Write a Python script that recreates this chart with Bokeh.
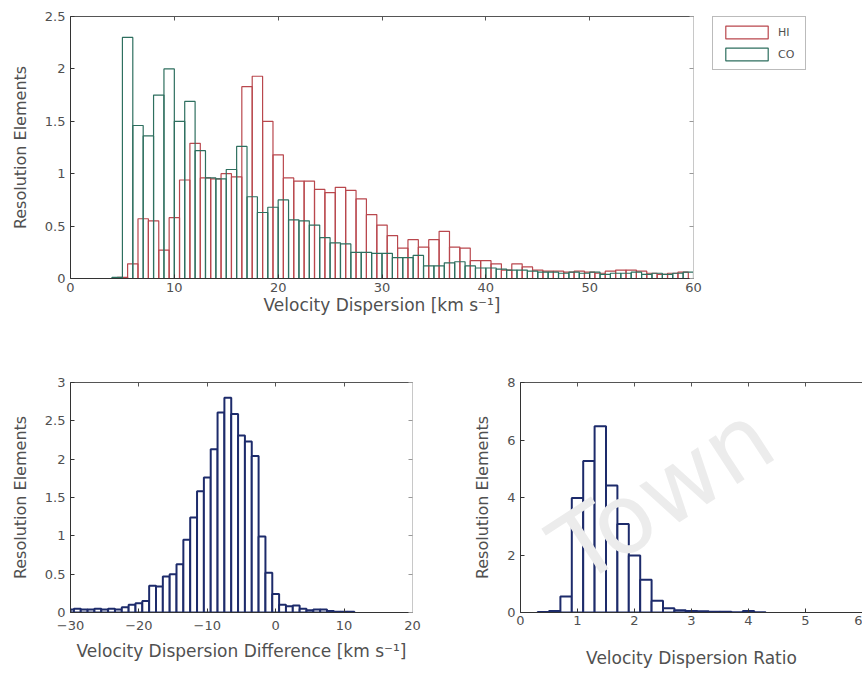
from bokeh.plotting import figure
from bokeh.models import Legend, LegendItem, LinearAxis, FixedTicker, Label
from bokeh.layouts import column, row
from bokeh.embed import file_html
from bokeh.resources import INLINE

# ---------------- data ----------------
# Top: velocity dispersion histograms (bin width 1 km/s)
co_bin_left = [4, 5, 6, 7, 8, 9, 10, 11, 12, 13, 14, 15, 16, 17, 18, 19, 20, 21, 22, 23,
               24, 25, 26, 27, 28, 29, 30, 31, 32, 33, 34, 35, 36, 37, 38, 39, 40, 41, 42, 43,
               44, 45, 46, 47, 48, 49, 50, 51, 52, 53, 54, 55, 56, 57, 58, 59]
co_values = [0.01, 2.30, 1.46, 1.36, 1.75, 2.00, 1.50, 1.69, 1.22, 0.96, 0.95, 1.04, 1.26, 0.78,
             0.63, 0.68, 0.75, 0.56, 0.55, 0.51, 0.39, 0.34, 0.33, 0.25, 0.25, 0.24, 0.24, 0.20,
             0.20, 0.22, 0.12, 0.12, 0.15, 0.16, 0.12, 0.10, 0.10, 0.09, 0.08, 0.08, 0.07, 0.06,
             0.06, 0.05, 0.06, 0.05, 0.06, 0.04, 0.05, 0.05, 0.06, 0.04, 0.05, 0.04, 0.05, 0.06]
hi_bin_left = [4.5, 5.5, 6.5, 7.5, 8.5, 9.5, 10.5, 11.5, 12.5, 13.5, 14.5, 15.5, 16.5, 17.5,
               18.5, 19.5, 20.5, 21.5, 22.5, 23.5, 24.5, 25.5, 26.5, 27.5, 28.5, 29.5, 30.5,
               31.5, 32.5, 33.5, 34.5, 35.5, 36.5, 37.5, 38.5, 39.5, 40.5, 41.5, 42.5, 43.5,
               44.5, 45.5, 46.5, 47.5, 48.5, 49.5, 50.5, 51.5, 52.5, 53.5, 54.5, 55.5, 56.5,
               57.5, 58.5]
hi_values = [0.01, 0.14, 0.57, 0.55, 0.27, 0.58, 0.94, 1.29, 0.96, 0.95, 1.00, 0.97, 1.83, 1.93,
             1.50, 1.18, 0.96, 0.93, 0.93, 0.85, 0.82, 0.87, 0.84, 0.76, 0.61, 0.51, 0.41, 0.29,
             0.37, 0.30, 0.37, 0.45, 0.30, 0.29, 0.17, 0.17, 0.14, 0.08, 0.14, 0.11, 0.08, 0.07,
             0.07, 0.06, 0.07, 0.06, 0.05, 0.07, 0.08, 0.08, 0.07, 0.05, 0.04, 0.05, 0.06]
series_names = ["HI", "CO"]

# Bottom left: velocity dispersion difference (bin width 1 km/s)
diff_centers = [-30, -29, -28, -27, -26, -25, -24, -23, -22, -21, -20, -19, -18, -17, -16, -15,
                -14, -13, -12, -11, -10, -9, -8, -7, -6, -5, -4, -3, -2, -1, 0, 1, 2, 3, 4, 5,
                6, 7, 8, 9, 10, 11]
diff_values = [0.04, 0.05, 0.04, 0.04, 0.05, 0.04, 0.05, 0.04, 0.07, 0.10, 0.12, 0.15, 0.35, 0.34,
               0.47, 0.50, 0.63, 0.95, 1.24, 1.58, 1.76, 2.13, 2.61, 2.80, 2.59, 2.31, 2.23, 2.04,
               0.99, 0.52, 0.24, 0.10, 0.08, 0.09, 0.05, 0.03, 0.04, 0.04, 0.02, 0.01, 0.01, 0.01]

# Bottom right: velocity dispersion ratio (bin width 0.2)
ratio_centers = [0.4, 0.6, 0.8, 1.0, 1.2, 1.4, 1.6, 1.8, 2.0, 2.2, 2.4, 2.6, 2.8, 3.0, 3.2,
                 3.4, 3.6, 3.8, 4.0, 4.2]
ratio_values = [0.02, 0.05, 0.56, 3.98, 5.27, 6.48, 4.42, 3.08, 1.98, 1.14, 0.41, 0.15, 0.08,
                0.05, 0.04, 0.03, 0.03, 0.01, 0.05, 0.01]

# ticks
top_xticks = [0, 10, 20, 30, 40, 50, 60]
top_yticks = [0, 0.5, 1, 1.5, 2, 2.5]
top_ylabels = ["0", "0.5", "1", "1.5", "2", "2.5"]
bl_xticks = [-30, -20, -10, 0, 10, 20]
bl_yticks = [0, 0.5, 1, 1.5, 2, 2.5, 3]
bl_ylabels = ["0", "0.5", "1", "1.5", "2", "2.5", "3"]
br_xticks = [0, 1, 2, 3, 4, 5, 6]
br_yticks = [0, 2, 4, 6, 8]
br_ylabels = ["0", "2", "4", "6", "8"]

HI_COLOR = "#b9474d"
CO_COLOR = "#2e6f5f"
NAVY = "#1d2b6b"
TXT = "#505050"
FONT = "DejaVu Sans"


def style(p, xt, yt, ylab, xlabel, ylabel, x_std, x_lab_std, right_axis=True):
    p.xgrid.visible = False
    p.ygrid.visible = False
    p.outline_line_color = None
    p.background_fill_color = "white"
    p.border_fill_color = "white"
    p.xaxis.ticker = FixedTicker(ticks=xt)
    p.yaxis.ticker = FixedTicker(ticks=yt)
    p.yaxis.major_label_overrides = {k: v for k, v in zip(yt, ylab)}
    for ax in (p.xaxis, p.yaxis):
        ax.major_tick_in = 4
        ax.major_tick_out = 0
        ax.minor_tick_line_color = None
        ax.axis_line_color = "#333333"
        ax.major_tick_line_color = "#333333"
        ax.major_label_text_font = FONT
        ax.major_label_text_font_size = "13px"
        ax.major_label_text_color = TXT
        ax.axis_label_text_font = FONT
        ax.axis_label_text_font_style = "normal"
        ax.axis_label_text_color = TXT
    p.xaxis.axis_label_text_font_size = "17px"
    p.yaxis.axis_label_text_font_size = "16px"
    p.xaxis.axis_label = xlabel
    p.yaxis.axis_label = ylabel
    p.xaxis.major_label_standoff = x_std
    p.xaxis.axis_label_standoff = x_lab_std
    p.yaxis.major_label_standoff = 5
    p.yaxis.axis_label_standoff = 12
    top = LinearAxis(ticker=FixedTicker(ticks=xt), major_label_text_font_size="1px",
                     major_label_text_color=None, major_label_standoff=0,
                     major_tick_in=4, major_tick_out=0,
                     minor_tick_line_color=None, axis_line_color="#555555",
                     major_tick_line_color="#555555")
    p.add_layout(top, "above")
    if right_axis:
        ra = LinearAxis(ticker=FixedTicker(ticks=yt), major_label_text_font_size="1px",
                        major_label_text_color=None, major_label_standoff=0,
                        major_tick_in=4, major_tick_out=0,
                        minor_tick_line_color=None, axis_line_color="#c8c8c8",
                        major_tick_line_color="#999999")
        p.add_layout(ra, "right")


# ---------------- top figure ----------------
p1 = figure(frame_width=623, frame_height=262, x_range=(0, 60), y_range=(0, 2.5),
            min_border_left=70, min_border_right=10, min_border_top=16, min_border_bottom=62,
            output_backend="svg", toolbar_location=None)
p1.quad(left=hi_bin_left, right=[v + 1 for v in hi_bin_left], bottom=0, top=hi_values,
        fill_color=None, line_color=HI_COLOR, line_width=1.2)
p1.quad(left=co_bin_left, right=[v + 1 for v in co_bin_left], bottom=0, top=co_values,
        fill_color=None, line_color=CO_COLOR, line_width=1.2)
style(p1, top_xticks, top_yticks, top_ylabels, "Velocity Dispersion [km s\u207b\u00b9]",
      "Resolution Elements", 4, 0)

# legend lives in its own small canvas to the right of the top axes;
# the same series are drawn there but kept outside its visible range
pl = figure(width=150, height=340, x_range=(100, 101), y_range=(0, 1), min_border=0,
            min_border_left=9, x_axis_location=None, y_axis_location=None, title=None,
            output_backend="svg", toolbar_location=None)
pl.xgrid.visible = False
pl.ygrid.visible = False
pl.outline_line_color = None
lr_hi = pl.quad(left=hi_bin_left, right=[v + 1 for v in hi_bin_left], bottom=0, top=hi_values,
                fill_color=None, line_color=HI_COLOR, line_width=1.2)
lr_co = pl.quad(left=co_bin_left, right=[v + 1 for v in co_bin_left], bottom=0, top=co_values,
                fill_color=None, line_color=CO_COLOR, line_width=1.2)
legend = Legend(items=[LegendItem(label=series_names[0], renderers=[lr_hi]),
                       LegendItem(label=series_names[1], renderers=[lr_co])],
                location="top_left", glyph_width=53, glyph_height=16, padding=7, spacing=6,
                margin=0, label_text_font=FONT, label_text_font_size="11px",
                label_text_color=TXT, border_line_color="#777777", label_standoff=5)
pl.add_layout(legend)

# ---------------- bottom left ----------------
p2 = figure(frame_width=342, frame_height=230, x_range=(-30, 20), y_range=(0, 3),
            min_border_left=70, min_border_right=58, min_border_top=42, min_border_bottom=63,
            output_backend="svg", toolbar_location=None)
p2.vbar(x=diff_centers, width=1, top=diff_values, bottom=0, fill_color="white",
        line_color=NAVY, line_width=2)
style(p2, bl_xticks, bl_yticks, bl_ylabels, "Velocity Dispersion Difference [km s\u207b\u00b9]",
      "Resolution Elements", 8, 8)

# ---------------- bottom right ----------------
p3 = figure(frame_width=342, frame_height=230, x_range=(0, 6), y_range=(0, 8),
            min_border_left=50, min_border_right=0, min_border_top=42, min_border_bottom=63,
            output_backend="svg", toolbar_location=None)
p3.vbar(x=ratio_centers, width=0.2, top=ratio_values, bottom=0, fill_color="white",
        line_color=NAVY, line_width=2)
style(p3, br_xticks, br_yticks, br_ylabels, "Velocity Dispersion Ratio",
      "Resolution Elements", 3, 20, right_axis=False)
p3.add_layout(Label(x=72, y=6, x_units="screen", y_units="screen", text="Town", angle=0.58,
                    text_font=FONT, text_font_size="96px", text_color="#ececec"))

layout = column(row(p1, pl, spacing=0), row(p2, p3, spacing=0), spacing=0)
open("out.html", "w").write(file_html(layout, INLINE))
